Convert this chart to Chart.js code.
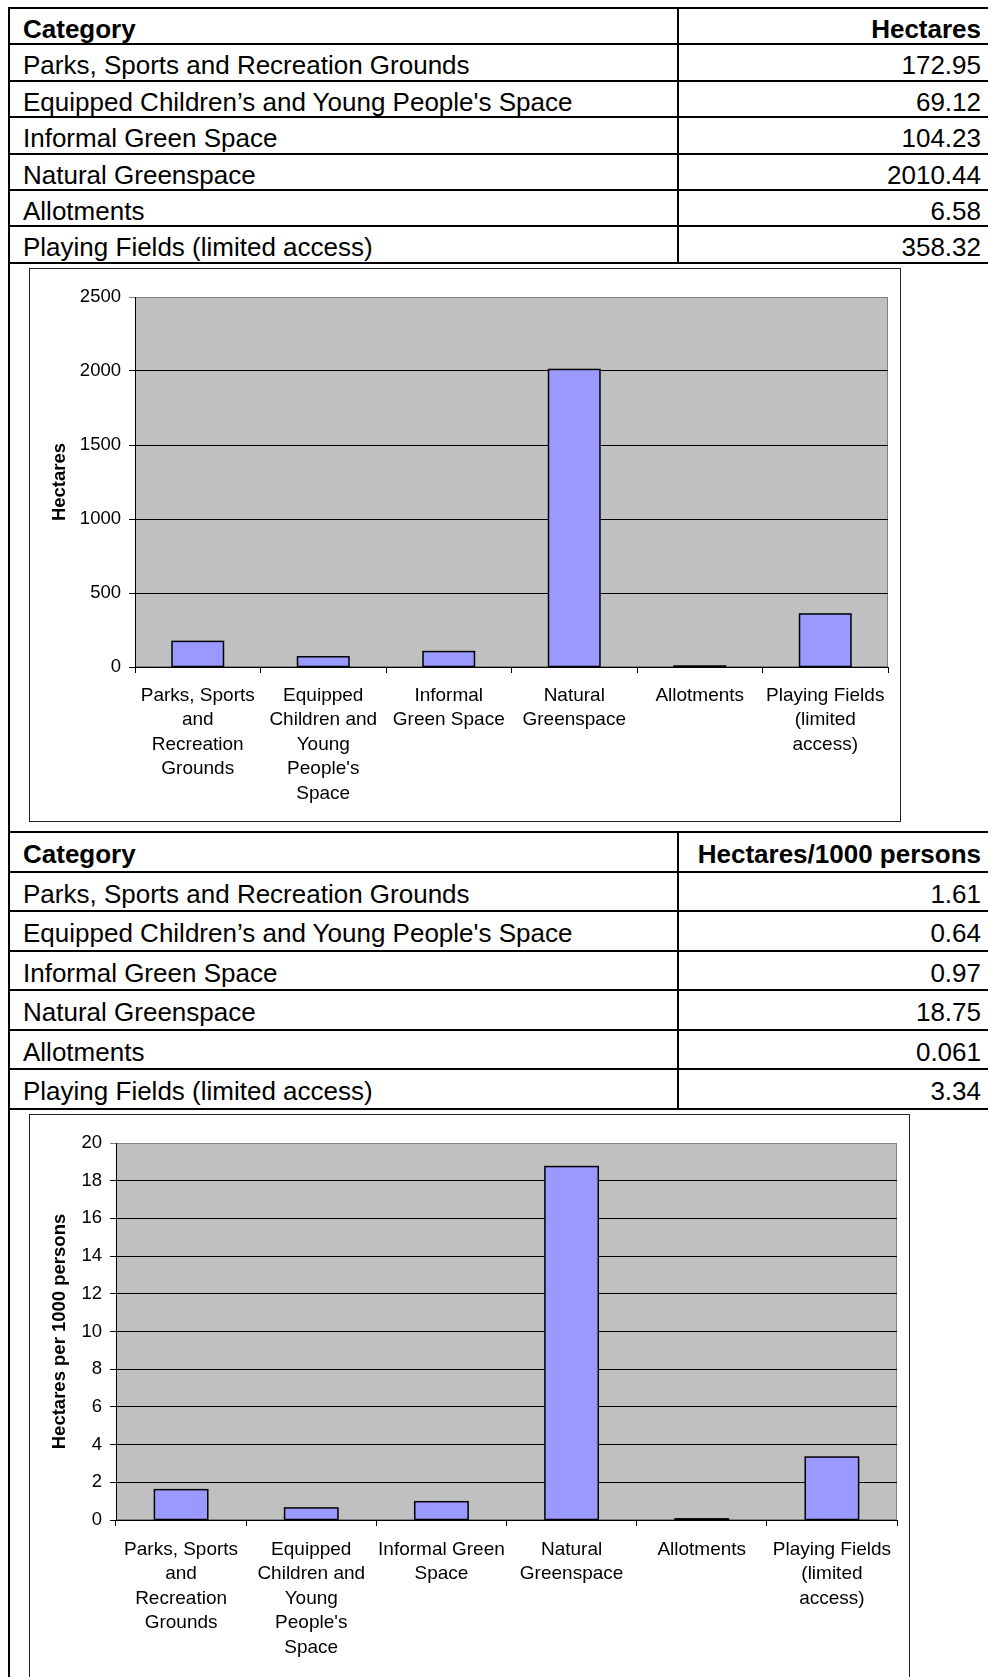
<!DOCTYPE html>
<html>
<head>
<meta charset="utf-8">
<title>Open space provision</title>
<script src="https://cdn.jsdelivr.net/npm/chart.js@4.4.0/dist/chart.umd.min.js"></script>
<style>
  html, body { margin: 0; padding: 0; background: #fff; }
  body { position: relative; width: 988px; height: 1677px; overflow: hidden;
         font-family: "Liberation Sans", Arial, sans-serif; color: #000; }
  .vline { position: absolute; background: #000; width: 2px; }
  .hline { position: absolute; background: #000; height: 2px; left: 8px; width: 990px; }
  .cell { position: absolute; white-space: nowrap; font-size: 26px; }
  .cell.num { text-align: right; }
  .cell.head { font-weight: bold; }
  .chartbox { position: absolute; left: 29px; border: 1px solid #222; background: #fff; }
  .chartbox canvas { display: block; }
</style>
</head>
<body>

<div class="vline" style="left:8px; top:7px; height:1680px;"></div>

<div id="table1"></div>
<div class="chartbox" style="top:268px; width:870px; height:552px;">
  <canvas id="chart1" width="870" height="552"></canvas>
</div>

<div id="table2"></div>
<div class="chartbox" style="top:1114px; width:879px; height:600px;">
  <canvas id="chart2" width="879" height="560"></canvas>
</div>

<script>
// table rows
const categories = [
  'Parks, Sports and Recreation Grounds',
  'Equipped Children\u2019s and Young People\'s Space',
  'Informal Green Space',
  'Natural Greenspace',
  'Allotments',
  'Playing Fields (limited access)'
];

// hectares by category
const hectares = [172.95, 69.12, 104.23, 2010.44, 6.58, 358.32];

// hectares per 1000 persons by category
const perThousand = [1.61, 0.64, 0.97, 18.75, 0.061, 3.34];

// wrapped axis labels, as the charts break them
const axisLabels1 = [
  ['Parks, Sports', 'and', 'Recreation', 'Grounds'],
  ['Equipped', 'Children and', 'Young', 'People\'s', 'Space'],
  ['Informal', 'Green Space'],
  ['Natural', 'Greenspace'],
  ['Allotments'],
  ['Playing Fields', '(limited', 'access)']
];
const axisLabels2 = [
  ['Parks, Sports', 'and', 'Recreation', 'Grounds'],
  ['Equipped', 'Children and', 'Young', 'People\'s', 'Space'],
  ['Informal Green', 'Space'],
  ['Natural', 'Greenspace'],
  ['Allotments'],
  ['Playing Fields', '(limited', 'access)']
];

const hectareTicks = [0, 500, 1000, 1500, 2000, 2500];
const perThousandTicks = [0, 2, 4, 6, 8, 10, 12, 14, 16, 18, 20];

const FONT = '"Liberation Sans", Arial, sans-serif';
const COL_X = 677;

function buildTable(el, top, pitch, valueHeader, values) {
  const rows = [['Category', valueHeader, true]];
  categories.forEach((c, i) => rows.push([c, String(values[i]), false]));
  let html = '';
  rows.forEach((r, i) => {
    const y = top + i * pitch;
    html += `<div class="hline" style="top:${y}px"></div>`;
    const cls = r[2] ? 'cell head' : 'cell';
    const style = `top:${y + 4}px; height:${pitch - 4}px; line-height:${pitch}px;`;
    html += `<div class="${cls}" style="${style} left:23px;">${r[0]}</div>`;
    html += `<div class="${cls} num" style="${style} left:${COL_X}px; width:${981 - COL_X}px;">${r[1]}</div>`;
  });
  const bottom = top + rows.length * pitch;
  html += `<div class="hline" style="top:${bottom}px"></div>`;
  html += `<div class="vline" style="left:${COL_X}px; top:${top}px; height:${bottom - top + 2}px;"></div>`;
  el.innerHTML = html;
}

buildTable(document.getElementById('table1'), 7, 36.4, 'Hectares', hectares);
buildTable(document.getElementById('table2'), 831, 39.5, 'Hectares/1000 persons', perThousand);

// grey plot area with a thin grey frame
const plotBackground = {
  id: 'plotBackground',
  beforeDraw(chart) {
    const { ctx, chartArea: a } = chart;
    ctx.save();
    ctx.fillStyle = '#c0c0c0';
    ctx.fillRect(a.left, a.top, a.width, a.height);
    ctx.strokeStyle = '#808080';
    ctx.lineWidth = 1;
    ctx.strokeRect(a.left + 0.5, a.top + 0.5, a.width - 1, a.height - 1);
    ctx.restore();
  }
};

// full black outline on every bar, so even a near-zero bar shows as a line
const barOutline = {
  id: 'barOutline',
  afterDatasetsDraw(chart) {
    const { ctx } = chart;
    ctx.save();
    ctx.strokeStyle = '#000';
    ctx.lineWidth = 1.5;
    chart.getDatasetMeta(0).data.forEach(bar => {
      const { x, y, base, width } = bar.getProps(['x', 'y', 'base', 'width'], true);
      ctx.strokeRect(x - width / 2, Math.min(y, base), width, Math.abs(base - y));
    });
    ctx.restore();
  }
};

function barChart(id, labels, values, ticks, title, yWidth, xHeight, labelPad) {
  const max = ticks[ticks.length - 1];
  return new Chart(document.getElementById(id), {
    type: 'bar',
    data: {
      labels: labels,
      datasets: [{
        data: values,
        backgroundColor: '#9999ff',
        borderWidth: 0,
        barPercentage: 0.41,
        categoryPercentage: 1
      }]
    },
    options: {
      responsive: false,
      animation: false,
      devicePixelRatio: 1,
      layout: { padding: { top: 28, right: 12, left: 0, bottom: 0 } },
      plugins: { legend: { display: false }, tooltip: { enabled: false } },
      scales: {
        x: {
          grid: { drawOnChartArea: false, drawTicks: true, tickLength: 6, color: '#000', offset: true },
          border: { display: true, color: '#000', width: 1 },
          ticks: {
            autoSkip: false, maxRotation: 0, minRotation: 0, color: '#000', padding: labelPad,
            font: { family: FONT, size: 19, lineHeight: 1.295 }
          },
          afterFit(scale) { scale.height = xHeight; }
        },
        y: {
          min: 0,
          max: max,
          afterBuildTicks(scale) { scale.ticks = ticks.map(v => ({ value: v })); },
          grid: {
            color: c => (c.tick && c.tick.value === max) ? '#808080' : '#000',
            lineWidth: 1, tickLength: 6, drawTicks: true
          },
          border: { display: true, color: '#000', width: 1 },
          ticks: {
            color: '#000', padding: 8, font: { family: FONT, size: 18.5 },
            callback: v => String(v)
          },
          title: {
            display: true, text: title, color: '#000',
            font: { family: FONT, size: 18.5, weight: 'bold' },
            padding: { top: 19, bottom: 0 }
          },
          afterFit(scale) { scale.width = yWidth; }
        }
      }
    },
    plugins: [plotBackground, barOutline]
  });
}

barChart('chart1', axisLabels1, hectares, hectareTicks, 'Hectares', 105, 154, 10);
barChart('chart2', axisLabels2, perThousand, perThousandTicks, 'Hectares per 1000 persons', 86, 155, 11);
</script>
</body>
</html>
